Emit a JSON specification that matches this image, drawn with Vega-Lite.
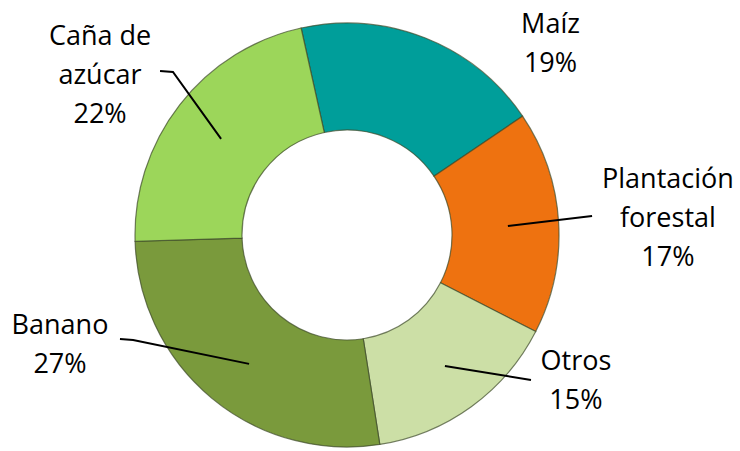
{
  "$schema": "https://vega.github.io/schema/vega-lite/v6.json",
  "width": 740,
  "height": 451,
  "padding": 0,
  "autosize": {"type": "none"},
  "background": "white",
  "config": {"view": {"stroke": null}},
  "datasets": {
    "slices": [
      {"cultivo": "Maíz", "pct": 19, "orden": 1, "cx": 0, "cy": 0},
      {"cultivo": "Plantación forestal", "pct": 17, "orden": 2, "cx": 0, "cy": 0},
      {"cultivo": "Otros", "pct": 15, "orden": 3, "cx": 0, "cy": 0},
      {"cultivo": "Banano", "pct": 27, "orden": 4, "cx": 0, "cy": 0},
      {"cultivo": "Caña de azúcar", "pct": 22, "orden": 5, "cx": 0, "cy": 0}
    ],
    "labels": [
      {"cultivo": "Maíz", "texto": ["Maíz", "19%"], "lx": 96, "ly": 99.1},
      {"cultivo": "Plantación forestal", "texto": ["Plantación", "forestal", "17%"], "lx": 151.4, "ly": 25.9},
      {"cultivo": "Otros", "texto": ["Otros", "15%"], "lx": 108, "ly": -59.9},
      {"cultivo": "Banano", "texto": ["Banano", "27%"], "lx": -135.4, "ly": -42.9},
      {"cultivo": "Caña de azúcar", "texto": ["Caña de", "azúcar", "22%"], "lx": -116.5, "ly": 93.4}
    ],
    "leaders": [
      {"cultivo": "Caña de azúcar", "p": 1, "px": -88.2, "py": 77.4},
      {"cultivo": "Caña de azúcar", "p": 2, "px": -82.1, "py": 76.9},
      {"cultivo": "Caña de azúcar", "p": 3, "px": -59.4, "py": 45.3},
      {"cultivo": "Plantación forestal", "p": 1, "px": 75.9, "py": 4.2},
      {"cultivo": "Plantación forestal", "p": 2, "px": 115.6, "py": 9.0},
      {"cultivo": "Banano", "p": 1, "px": -107.1, "py": -49.1},
      {"cultivo": "Banano", "p": 2, "px": -100.9, "py": -49.5},
      {"cultivo": "Banano", "p": 3, "px": -46.2, "py": -60.8},
      {"cultivo": "Otros", "p": 1, "px": 46.2, "py": -61.8},
      {"cultivo": "Otros", "p": 2, "px": 86.8, "py": -68.4}
    ]
  },
  "layer": [
    {
      "data": {"name": "slices"},
      "mark": {"type": "arc", "outerRadius": 212, "innerRadius": 105, "stroke": "#3d4a2a", "strokeWidth": 1.2, "strokeOpacity": 0.7},
      "encoding": {
        "x": {"field": "cx", "type": "quantitative", "scale": {"domain": [-163.7, 185.4], "nice": false, "zero": false}, "axis": null},
        "y": {"field": "cy", "type": "quantitative", "scale": {"domain": [-101.9, 110.85], "nice": false, "zero": false}, "axis": null},
        "theta": {"field": "pct", "type": "quantitative", "stack": true, "scale": {"range": [-0.218, 6.065]}},
        "order": {"field": "orden", "type": "quantitative"},
        "color": {
          "field": "cultivo", "type": "nominal", "legend": null,
          "scale": {
            "domain": ["Maíz", "Plantación forestal", "Otros", "Banano", "Caña de azúcar"],
            "range": ["#009E9A", "#EE7210", "#CCDFA6", "#7A9A3C", "#9CD65A"]
          }
        }
      }
    },
    {
      "data": {"name": "leaders"},
      "mark": {"type": "line", "color": "black", "strokeWidth": 2},
      "encoding": {
        "x": {"field": "px", "type": "quantitative"},
        "y": {"field": "py", "type": "quantitative"},
        "detail": {"field": "cultivo"},
        "order": {"field": "p", "type": "quantitative"}
      }
    },
    {
      "data": {"name": "labels"},
      "mark": {"type": "text", "font": "Open Sans", "fontSize": 27, "lineHeight": 39, "align": "center", "baseline": "middle", "color": "black"},
      "encoding": {
        "x": {"field": "lx", "type": "quantitative"},
        "y": {"field": "ly", "type": "quantitative"},
        "text": {"field": "texto"}
      }
    }
  ]
}
